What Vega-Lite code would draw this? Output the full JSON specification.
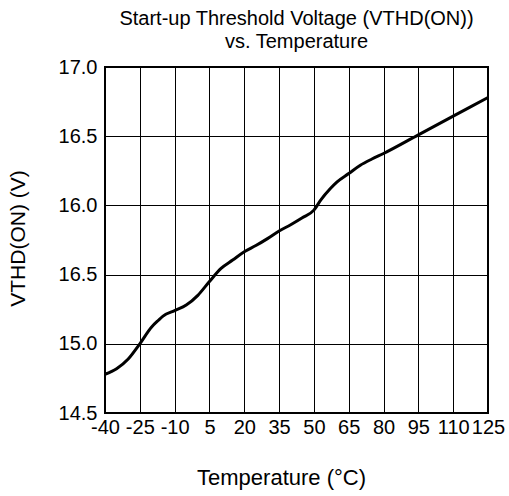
{
  "$schema": "https://vega.github.io/schema/vega-lite/v6.json",
  "width": 383,
  "height": 346,
  "autosize": {"type": "none"},
  "padding": {"left": 105, "top": 67, "right": 21, "bottom": 83},
  "background": "white",
  "config": {
    "font": "Liberation Sans",
    "view": {"stroke": "black", "strokeWidth": 2},
    "axis": {"grid": true, "gridColor": "black", "gridOpacity": 1, "gridWidth": 1, "domain": false, "ticks": false, "labelColor": "black", "titleColor": "black", "labelFontSize": 20, "titleFontSize": 21, "titleFontWeight": "normal"}
  },
  "title": {
    "text": ["Start-up Threshold Voltage (VTHD(ON))", "vs. Temperature"],
    "fontSize": 20,
    "fontWeight": "normal",
    "color": "black",
    "frame": "group",
    "anchor": "middle",
    "offset": 5,
    "lineHeight": 23
  },
  "data": {
    "values": [
      {"T": -40, "V": 14.78},
      {"T": -35, "V": 14.82},
      {"T": -30, "V": 14.89},
      {"T": -25, "V": 15.0},
      {"T": -20, "V": 15.12},
      {"T": -17, "V": 15.17},
      {"T": -15, "V": 15.2},
      {"T": -10, "V": 15.24},
      {"T": -5, "V": 15.28},
      {"T": 0, "V": 15.35},
      {"T": 5, "V": 15.45},
      {"T": 10, "V": 15.545},
      {"T": 15, "V": 15.605},
      {"T": 20, "V": 15.665},
      {"T": 25, "V": 15.71},
      {"T": 30, "V": 15.76},
      {"T": 35, "V": 15.815},
      {"T": 40, "V": 15.86},
      {"T": 45, "V": 15.91},
      {"T": 50, "V": 15.966},
      {"T": 53, "V": 16.04},
      {"T": 57, "V": 16.12},
      {"T": 60, "V": 16.17},
      {"T": 65, "V": 16.23},
      {"T": 70, "V": 16.29},
      {"T": 75, "V": 16.335},
      {"T": 80, "V": 16.375},
      {"T": 95, "V": 16.51},
      {"T": 110, "V": 16.645},
      {"T": 125, "V": 16.78}
    ]
  },
  "mark": {"type": "line", "color": "black", "strokeWidth": 3, "interpolate": "monotone"},
  "encoding": {
    "x": {
      "field": "T",
      "type": "quantitative",
      "scale": {"domain": [-40, 125], "nice": false},
      "axis": {"values": [-40, -25, -10, 5, 20, 35, 50, 65, 80, 95, 110, 125], "labelExpr": "datum.value + ''", "labelPadding": 4, "title": "Temperature (°C)", "titleFontSize": 22, "titleX": 176, "titlePadding": 30, "labelFlush": false, "labelOverlap": false}
    },
    "y": {
      "field": "V",
      "type": "quantitative",
      "scale": {"domain": [14.5, 17.0], "nice": false, "zero": false},
      "axis": {"values": [14.5, 15.0, 15.5, 16.0, 16.5, 17.0], "labelExpr": "datum.value == 15.5 ? '16.5' : format(datum.value, '.1f')", "labelPadding": 8, "title": "VTHD(ON) (V)", "titleY": 171, "titlePadding": 30, "labelFlush": false, "labelOverlap": false}
    }
  }
}
